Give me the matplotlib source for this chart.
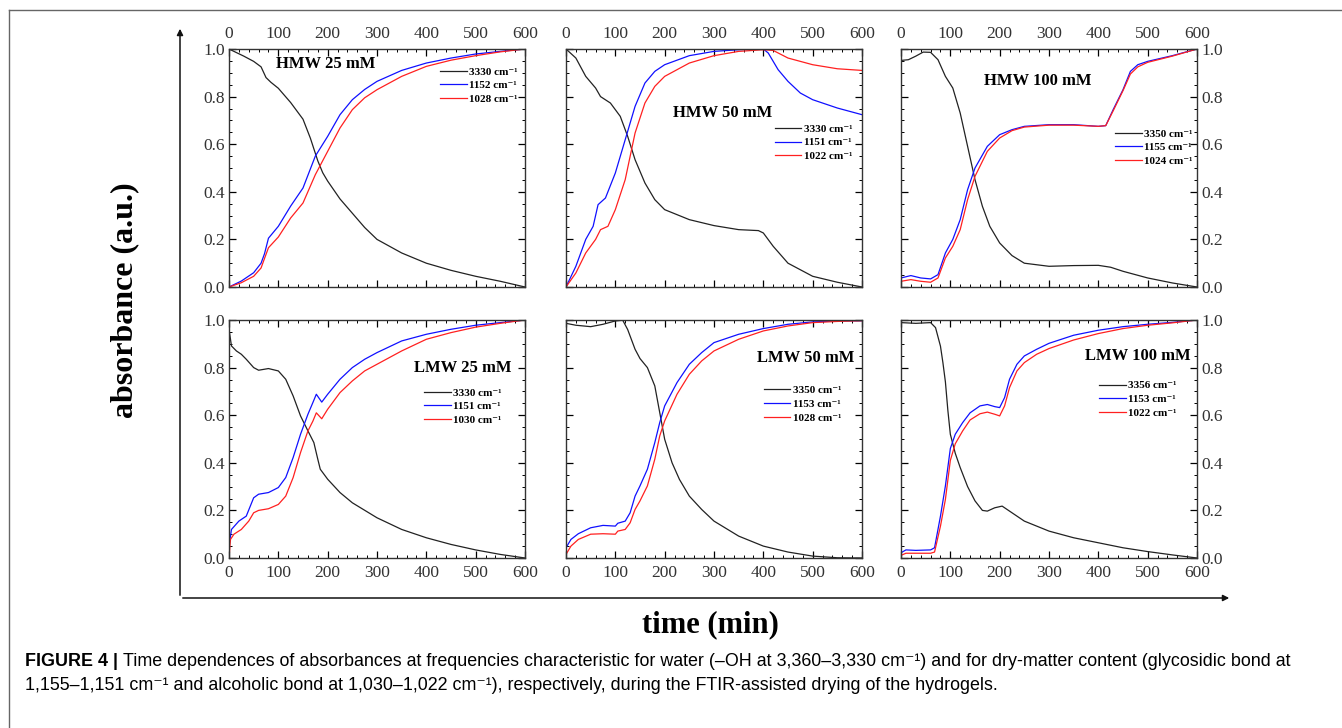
import matplotlib
matplotlib.use("Agg")
import matplotlib.pyplot as plt
from matplotlib.lines import Line2D
from matplotlib.patches import FancyArrowPatch
from matplotlib.ticker import MultipleLocator, FormatStrFormatter


# Normalised absorbance vs drying time, one block per hydrogel

# HMW 25 mM
hmw25_t_oh = [0, 15, 30, 50, 65, 75, 85, 100, 125, 150, 165, 180, 190, 200, 225, 250, 275, 300, 350, 400, 450, 500, 550, 600]
hmw25_oh = [1.0, 0.985, 0.97, 0.948, 0.925, 0.88, 0.86, 0.835, 0.775, 0.705, 0.625, 0.53, 0.48, 0.445, 0.37, 0.31, 0.25, 0.2, 0.143, 0.1, 0.07, 0.045, 0.024, 0.0]
hmw25_t_dry = [0, 25, 50, 65, 72, 80, 100, 125, 150, 175, 200, 225, 250, 275, 300, 350, 400, 450, 500, 550, 600]
hmw25_glyc = [0.0, 0.025, 0.06, 0.1, 0.14, 0.205, 0.255, 0.34, 0.416, 0.55, 0.633, 0.724, 0.787, 0.83, 0.864, 0.91, 0.941, 0.962, 0.979, 0.99, 1.0]
hmw25_alc = [0.0, 0.018, 0.045, 0.08, 0.12, 0.165, 0.21, 0.29, 0.353, 0.472, 0.57, 0.668, 0.745, 0.795, 0.829, 0.885, 0.927, 0.953, 0.972, 0.988, 1.0]

# HMW 50 mM
hmw50_t_oh = [0, 20, 40, 60, 70, 90, 110, 125, 140, 160, 180, 200, 250, 300, 350, 390, 400, 420, 450, 500, 550, 600]
hmw50_oh = [1.0, 0.962, 0.885, 0.836, 0.80, 0.773, 0.717, 0.633, 0.535, 0.437, 0.367, 0.325, 0.283, 0.258, 0.241, 0.237, 0.227, 0.171, 0.10, 0.045, 0.02, 0.0]
hmw50_t_glyc = [0, 20, 40, 55, 65, 80, 100, 120, 140, 160, 180, 200, 250, 300, 350, 400, 410, 430, 450, 475, 500, 550, 600]
hmw50_glyc = [0.0, 0.087, 0.2, 0.255, 0.346, 0.374, 0.479, 0.619, 0.759, 0.857, 0.906, 0.934, 0.972, 0.99, 0.997, 1.0, 0.983, 0.913, 0.864, 0.815, 0.787, 0.752, 0.724]
hmw50_t_alc = [0, 20, 40, 60, 70, 85, 100, 120, 130, 140, 160, 180, 200, 250, 300, 350, 400, 420, 450, 500, 550, 600]
hmw50_alc = [0.0, 0.059, 0.143, 0.2, 0.241, 0.255, 0.325, 0.451, 0.549, 0.647, 0.773, 0.843, 0.885, 0.941, 0.972, 0.99, 0.997, 0.994, 0.962, 0.934, 0.917, 0.91]

# HMW 100 mM
hmw100_t_oh = [0, 15, 30, 45, 60, 75, 90, 105, 120, 135, 150, 165, 180, 200, 225, 250, 300, 350, 400, 425, 450, 500, 550, 600]
hmw100_oh = [0.952, 0.955, 0.97, 0.987, 0.986, 0.955, 0.885, 0.836, 0.731, 0.591, 0.451, 0.339, 0.255, 0.185, 0.132, 0.10, 0.087, 0.09, 0.091, 0.083, 0.066, 0.038, 0.017, 0.0]
hmw100_t_dry = [0, 20, 40, 60, 75, 90, 105, 120, 135, 150, 175, 200, 225, 250, 300, 350, 400, 415, 430, 450, 465, 480, 500, 550, 600]
hmw100_glyc = [0.038, 0.048, 0.038, 0.034, 0.052, 0.143, 0.2, 0.283, 0.409, 0.5, 0.591, 0.64, 0.661, 0.675, 0.682, 0.682, 0.675, 0.678, 0.745, 0.829, 0.906, 0.934, 0.948, 0.972, 1.0]
hmw100_alc = [0.024, 0.031, 0.024, 0.02, 0.038, 0.122, 0.171, 0.241, 0.367, 0.465, 0.57, 0.626, 0.657, 0.672, 0.68, 0.68, 0.675, 0.678, 0.74, 0.825, 0.895, 0.925, 0.944, 0.97, 1.0]

# LMW 25 mM
lmw25_t_oh = [0, 5, 15, 25, 35, 50, 60, 80, 100, 115, 130, 145, 160, 172, 180, 185, 200, 225, 250, 300, 350, 400, 450, 500, 550, 600]
lmw25_oh = [0.961, 0.891, 0.87, 0.856, 0.835, 0.8, 0.789, 0.796, 0.786, 0.751, 0.681, 0.597, 0.534, 0.485, 0.415, 0.373, 0.331, 0.275, 0.232, 0.169, 0.12, 0.085, 0.057, 0.034, 0.015, 0.0]
lmw25_t_glyc = [0, 5, 20, 35, 50, 60, 80, 100, 115, 130, 145, 160, 170, 177, 188, 200, 225, 250, 275, 300, 350, 400, 450, 500, 550, 600]
lmw25_glyc = [0.05, 0.12, 0.155, 0.176, 0.253, 0.268, 0.275, 0.296, 0.338, 0.422, 0.52, 0.604, 0.653, 0.688, 0.655, 0.688, 0.751, 0.8, 0.835, 0.863, 0.912, 0.94, 0.961, 0.978, 0.989, 1.0]
lmw25_t_alc = [0, 3, 10, 25, 40, 50, 60, 80, 100, 115, 130, 145, 160, 170, 177, 188, 200, 225, 250, 275, 300, 350, 400, 450, 500, 550, 600]
lmw25_alc = [0.0, 0.078, 0.1, 0.12, 0.155, 0.19, 0.2, 0.207, 0.225, 0.26, 0.338, 0.443, 0.534, 0.575, 0.61, 0.585, 0.625, 0.695, 0.744, 0.786, 0.814, 0.87, 0.919, 0.947, 0.97, 0.986, 1.0]

# LMW 50 mM
lmw50_t_oh = [0, 20, 50, 75, 100, 115, 125, 140, 150, 165, 180, 190, 200, 215, 230, 250, 275, 300, 350, 400, 450, 500, 550, 600]
lmw50_oh = [0.986, 0.978, 0.972, 0.982, 0.996, 0.999, 0.96, 0.877, 0.838, 0.8, 0.723, 0.611, 0.499, 0.4, 0.33, 0.26, 0.204, 0.155, 0.092, 0.05, 0.025, 0.008, 0.001, 0.0]
lmw50_t_dry = [0, 10, 25, 50, 75, 100, 105, 120, 130, 140, 150, 165, 180, 190, 200, 225, 250, 275, 300, 350, 400, 450, 500, 550, 600]
lmw50_glyc = [0.043, 0.078, 0.102, 0.127, 0.137, 0.134, 0.146, 0.155, 0.19, 0.26, 0.303, 0.373, 0.485, 0.569, 0.639, 0.737, 0.814, 0.863, 0.905, 0.94, 0.964, 0.982, 0.992, 0.996, 0.997]
lmw50_alc = [0.015, 0.05, 0.078, 0.1, 0.102, 0.1, 0.113, 0.12, 0.148, 0.204, 0.24, 0.303, 0.415, 0.513, 0.576, 0.688, 0.772, 0.828, 0.87, 0.919, 0.954, 0.975, 0.989, 0.994, 0.997]

# LMW 100 mM
lmw100_t_oh = [0, 30, 60, 70, 80, 85, 90, 95, 100, 110, 120, 135, 150, 165, 175, 190, 205, 220, 250, 300, 350, 400, 450, 500, 550, 600]
lmw100_oh = [0.989, 0.986, 0.989, 0.968, 0.89, 0.82, 0.74, 0.62, 0.52, 0.44, 0.38, 0.30, 0.24, 0.2, 0.197, 0.211, 0.218, 0.197, 0.155, 0.113, 0.085, 0.064, 0.043, 0.027, 0.013, 0.0]
lmw100_t_dry = [0, 10, 30, 60, 68, 80, 90, 100, 110, 125, 140, 160, 175, 190, 200, 210, 220, 235, 250, 275, 300, 350, 400, 450, 500, 550, 600]
lmw100_glyc = [0.022, 0.034, 0.032, 0.034, 0.043, 0.176, 0.303, 0.46, 0.52, 0.569, 0.61, 0.639, 0.645, 0.636, 0.632, 0.674, 0.751, 0.814, 0.849, 0.877, 0.902, 0.936, 0.957, 0.972, 0.982, 0.99, 1.0]
lmw100_alc = [0.011, 0.02, 0.02, 0.02, 0.025, 0.134, 0.246, 0.41, 0.48, 0.534, 0.58, 0.606, 0.613, 0.604, 0.597, 0.639, 0.716, 0.786, 0.821, 0.856, 0.88, 0.916, 0.943, 0.964, 0.978, 0.988, 1.0]

panel_names = ["HMW 25 mM", "HMW 50 mM", "HMW 100 mM", "LMW 25 mM", "LMW 50 mM", "LMW 100 mM"]
wavenumbers = [
    ["3330", "1152", "1028"],
    ["3330", "1151", "1022"],
    ["3350", "1155", "1024"],
    ["3330", "1151", "1030"],
    ["3350", "1153", "1028"],
    ["3356", "1153", "1022"],
]

series = [
    [(hmw25_t_oh, hmw25_oh), (hmw25_t_dry, hmw25_glyc), (hmw25_t_dry, hmw25_alc)],
    [(hmw50_t_oh, hmw50_oh), (hmw50_t_glyc, hmw50_glyc), (hmw50_t_alc, hmw50_alc)],
    [(hmw100_t_oh, hmw100_oh), (hmw100_t_dry, hmw100_glyc), (hmw100_t_dry, hmw100_alc)],
    [(lmw25_t_oh, lmw25_oh), (lmw25_t_glyc, lmw25_glyc), (lmw25_t_alc, lmw25_alc)],
    [(lmw50_t_oh, lmw50_oh), (lmw50_t_dry, lmw50_glyc), (lmw50_t_dry, lmw50_alc)],
    [(lmw100_t_oh, lmw100_oh), (lmw100_t_dry, lmw100_glyc), (lmw100_t_dry, lmw100_alc)],
]

# name position (min, abs) and legend anchor (min, abs) in each panel
title_pos = [(195, 0.937), (317, 0.731), (277, 0.864), (474, 0.80), (485, 0.842), (480, 0.849)]
legend_pos = [(428, 0.925), (423, 0.685), (434, 0.665), (396, 0.715), (401, 0.725), (402, 0.745)]

colors = ["#222222", "#1010ff", "#ff2020"]
serif = ["Liberation Serif", "DejaVu Serif"]
sans = ["Liberation Sans", "DejaVu Sans"]

W, H = 1342, 728
fig = plt.figure(figsize=(W / 100, H / 100), dpi=100)
plt.rcParams["font.family"] = serif

col_left = [229, 566, 901]
row_top = [49, 320]
pw, ph = 296, 238

for i in range(6):
    row, col = divmod(i, 3)
    x0 = col_left[col]
    y1 = row_top[row] + ph
    ax = fig.add_axes([x0 / W, 1 - y1 / H, pw / W, ph / H])

    for (t, a), c, wn in zip(series[i], colors, wavenumbers[i]):
        ax.plot(t, a, color=c, lw=0.9, label=wn + " cm\u207b\u00b9")

    ax.set_xlim(0, 600)
    ax.set_ylim(0, 1.0)
    ax.xaxis.set_major_locator(MultipleLocator(100))
    ax.xaxis.set_minor_locator(MultipleLocator(20))
    ax.yaxis.set_major_locator(MultipleLocator(0.2))
    ax.yaxis.set_minor_locator(MultipleLocator(0.05))
    ax.yaxis.set_major_formatter(FormatStrFormatter("%.1f"))

    ax.tick_params(which="both", direction="in", top=True, bottom=True, left=True, right=True,
                   labeltop=(row == 0), labelbottom=(row == 1),
                   labelleft=(col == 0), labelright=(col == 2),
                   labelsize=12.5, labelcolor="#333333")
    ax.tick_params(axis="x", pad=5)
    ax.tick_params(axis="y", pad=3)
    ax.tick_params(which="major", length=5, width=0.9)
    ax.tick_params(which="minor", length=2.5, width=0.7)
    for s in ax.spines.values():
        s.set_linewidth(1.0)
        s.set_color("#333333")

    tx, ty = title_pos[i]
    ax.text(tx, ty, panel_names[i], ha="center", va="center", fontsize=12,
            fontweight="bold", family=serif)

    lx, ly = legend_pos[i]
    ax.legend(loc="upper left", bbox_to_anchor=(lx / 600, ly), frameon=False,
              prop={"family": serif, "weight": "bold", "size": 8},
              handlelength=2.4, handletextpad=0.2, labelspacing=0.35,
              borderpad=0, borderaxespad=0)

# outer axis arrows
fig.add_artist(FancyArrowPatch((180 / W, 1 - 598 / H), (180 / W, 1 - 26 / H),
                               transform=fig.transFigure, arrowstyle="-|>",
                               mutation_scale=9, lw=1.1, color="#111111"))
fig.add_artist(FancyArrowPatch((180 / W, 1 - 598 / H), (1232 / W, 1 - 598 / H),
                               transform=fig.transFigure, arrowstyle="-|>",
                               mutation_scale=9, lw=1.1, color="#111111"))

fig.text(125 / W, 1 - 300 / H, "absorbance (a.u.)", rotation=90, ha="center", va="center",
         fontsize=23, fontweight="bold", family=serif)
fig.text(710 / W, 1 - 625 / H, "time (min)", ha="center", va="center",
         fontsize=22, fontweight="bold", family=serif)

# page frame
fig.add_artist(Line2D([9 / W, 1.0], [1 - 10 / H, 1 - 10 / H], transform=fig.transFigure,
                      color="#666666", lw=1.0))
fig.add_artist(Line2D([9 / W, 9 / W], [1 - 10 / H, 0.0], transform=fig.transFigure,
                      color="#666666", lw=1.0))

# caption
cap_size = 12.9
head = fig.text(25 / W, 1 - 661 / H, "FIGURE 4 | ", ha="left", va="center",
                fontsize=cap_size, fontweight="bold", family=sans)
fig.canvas.draw()
bb = head.get_window_extent(renderer=fig.canvas.get_renderer())
fig.text(bb.x1 / W, 1 - 661 / H,
         "Time dependences of absorbances at frequencies characteristic for water "
         "(\u2013OH at 3,360\u20133,330 cm\u207b\u00b9) and for dry-matter content (glycosidic bond at",
         ha="left", va="center", fontsize=cap_size, family=sans)
fig.text(25 / W, 1 - 686 / H,
         "1,155\u20131,151 cm\u207b\u00b9 and alcoholic bond at 1,030\u20131,022 cm\u207b\u00b9), "
         "respectively, during the FTIR-assisted drying of the hydrogels.",
         ha="left", va="center", fontsize=cap_size, family=sans)

fig.savefig("out.png", dpi=100)
